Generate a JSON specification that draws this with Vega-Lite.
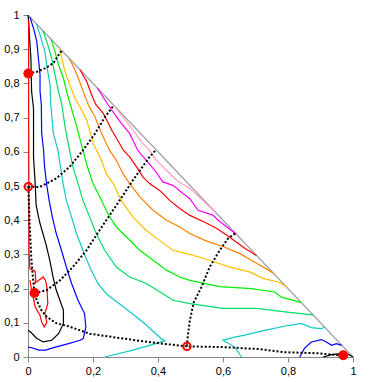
{
  "$schema": "https://vega.github.io/schema/vega-lite/v6.json",
  "width": 325,
  "height": 342,
  "autosize": "none",
  "padding": {"left": 28, "top": 15, "right": 17, "bottom": 25},
  "background": "white",
  "config": {
    "view": {"stroke": null},
    "axis": {
      "grid": false,
      "title": null,
      "domainColor": "#868686",
      "tickColor": "#868686",
      "tickSize": 5,
      "labelFont": "Liberation Sans",
      "labelFontSize": 11,
      "labelColor": "#000000",
      "labelFlush": false,
      "labelOverlap": false,
      "labelPadding": 3
    }
  },
  "datasets": {
    "contours": [
      {"s":"diag","i":0,"x":0,"y":1},{"s":"diag","i":1,"x":1,"y":0},

      {"s":"pink","i":0,"x":0.263,"y":0.737},{"s":"pink","i":1,"x":0.292,"y":0.702},{"s":"pink","i":2,"x":0.323,"y":0.663},{"s":"pink","i":3,"x":0.354,"y":0.624},{"s":"pink","i":4,"x":0.374,"y":0.604},{"s":"pink","i":5,"x":0.395,"y":0.575},{"s":"pink","i":6,"x":0.426,"y":0.546},{"s":"pink","i":7,"x":0.457,"y":0.517},{"s":"pink","i":8,"x":0.498,"y":0.493},{"s":"pink","i":9,"x":0.538,"y":0.458},{"s":"pink","i":10,"x":0.574,"y":0.426},

      {"s":"magenta","i":0,"x":0.213,"y":0.787},{"s":"magenta","i":1,"x":0.227,"y":0.766},{"s":"magenta","i":2,"x":0.251,"y":0.731},{"s":"magenta","i":3,"x":0.280,"y":0.692},{"s":"magenta","i":4,"x":0.313,"y":0.653},{"s":"magenta","i":5,"x":0.338,"y":0.604},{"s":"magenta","i":6,"x":0.364,"y":0.575},{"s":"magenta","i":7,"x":0.390,"y":0.546},{"s":"magenta","i":8,"x":0.415,"y":0.512},{"s":"magenta","i":9,"x":0.446,"y":0.502},{"s":"magenta","i":10,"x":0.477,"y":0.478},{"s":"magenta","i":11,"x":0.498,"y":0.463},{"s":"magenta","i":12,"x":0.523,"y":0.429},{"s":"magenta","i":13,"x":0.569,"y":0.415},{"s":"magenta","i":14,"x":0.585,"y":0.400},{"s":"magenta","i":15,"x":0.641,"y":0.359},

      {"s":"red","i":0,"x":0.160,"y":0.840},{"s":"red","i":1,"x":0.181,"y":0.805},{"s":"red","i":2,"x":0.196,"y":0.766},{"s":"red","i":3,"x":0.208,"y":0.739},{"s":"red","i":4,"x":0.232,"y":0.712},{"s":"red","i":5,"x":0.258,"y":0.663},{"s":"red","i":6,"x":0.294,"y":0.604},{"s":"red","i":7,"x":0.313,"y":0.585},{"s":"red","i":8,"x":0.334,"y":0.556},{"s":"red","i":9,"x":0.354,"y":0.526},{"s":"red","i":10,"x":0.374,"y":0.507},{"s":"red","i":11,"x":0.405,"y":0.487},{"s":"red","i":12,"x":0.436,"y":0.458},{"s":"red","i":13,"x":0.467,"y":0.434},{"s":"red","i":14,"x":0.498,"y":0.414},{"s":"red","i":15,"x":0.544,"y":0.394},{"s":"red","i":16,"x":0.581,"y":0.376},{"s":"red","i":17,"x":0.621,"y":0.350},{"s":"red","i":18,"x":0.667,"y":0.318},{"s":"red","i":19,"x":0.703,"y":0.297},

      {"s":"orange","i":0,"x":0.127,"y":0.873},{"s":"orange","i":1,"x":0.140,"y":0.849},{"s":"orange","i":2,"x":0.155,"y":0.815},{"s":"orange","i":3,"x":0.170,"y":0.776},{"s":"orange","i":4,"x":0.186,"y":0.737},{"s":"orange","i":5,"x":0.206,"y":0.702},{"s":"orange","i":6,"x":0.227,"y":0.653},{"s":"orange","i":7,"x":0.251,"y":0.604},{"s":"orange","i":8,"x":0.272,"y":0.575},{"s":"orange","i":9,"x":0.292,"y":0.536},{"s":"orange","i":10,"x":0.313,"y":0.507},{"s":"orange","i":11,"x":0.344,"y":0.468},{"s":"orange","i":12,"x":0.385,"y":0.429},{"s":"orange","i":13,"x":0.426,"y":0.400},{"s":"orange","i":14,"x":0.467,"y":0.380},{"s":"orange","i":15,"x":0.498,"y":0.361},{"s":"orange","i":16,"x":0.544,"y":0.341},{"s":"orange","i":17,"x":0.605,"y":0.321},{"s":"orange","i":18,"x":0.651,"y":0.303},{"s":"orange","i":19,"x":0.698,"y":0.277},{"s":"orange","i":20,"x":0.754,"y":0.246},

      {"s":"gold","i":0,"x":0.097,"y":0.903},{"s":"gold","i":1,"x":0.104,"y":0.873},{"s":"gold","i":2,"x":0.114,"y":0.834},{"s":"gold","i":3,"x":0.129,"y":0.795},{"s":"gold","i":4,"x":0.145,"y":0.756},{"s":"gold","i":5,"x":0.159,"y":0.733},{"s":"gold","i":6,"x":0.181,"y":0.692},{"s":"gold","i":7,"x":0.201,"y":0.624},{"s":"gold","i":8,"x":0.226,"y":0.575},{"s":"gold","i":9,"x":0.241,"y":0.536},{"s":"gold","i":10,"x":0.262,"y":0.507},{"s":"gold","i":11,"x":0.287,"y":0.458},{"s":"gold","i":12,"x":0.323,"y":0.409},{"s":"gold","i":13,"x":0.364,"y":0.370},{"s":"gold","i":14,"x":0.405,"y":0.341},{"s":"gold","i":15,"x":0.446,"y":0.312},{"s":"gold","i":16,"x":0.498,"y":0.300},{"s":"gold","i":17,"x":0.559,"y":0.283},{"s":"gold","i":18,"x":0.621,"y":0.263},{"s":"gold","i":19,"x":0.682,"y":0.249},{"s":"gold","i":20,"x":0.723,"y":0.230},{"s":"gold","i":21,"x":0.775,"y":0.218},{"s":"gold","i":22,"x":0.795,"y":0.205},

      {"s":"lime","i":0,"x":0.071,"y":0.929},{"s":"lime","i":1,"x":0.083,"y":0.893},{"s":"lime","i":2,"x":0.094,"y":0.854},{"s":"lime","i":3,"x":0.109,"y":0.815},{"s":"lime","i":4,"x":0.119,"y":0.776},{"s":"lime","i":5,"x":0.130,"y":0.739},{"s":"lime","i":6,"x":0.150,"y":0.673},{"s":"lime","i":7,"x":0.169,"y":0.604},{"s":"lime","i":8,"x":0.180,"y":0.565},{"s":"lime","i":9,"x":0.200,"y":0.507},{"s":"lime","i":10,"x":0.221,"y":0.468},{"s":"lime","i":11,"x":0.246,"y":0.419},{"s":"lime","i":12,"x":0.272,"y":0.380},{"s":"lime","i":13,"x":0.303,"y":0.351},{"s":"lime","i":14,"x":0.344,"y":0.312},{"s":"lime","i":15,"x":0.385,"y":0.283},{"s":"lime","i":16,"x":0.426,"y":0.254},{"s":"lime","i":17,"x":0.467,"y":0.234},{"s":"lime","i":18,"x":0.498,"y":0.224},{"s":"lime","i":19,"x":0.590,"y":0.206},{"s":"lime","i":20,"x":0.687,"y":0.200},{"s":"lime","i":21,"x":0.759,"y":0.190},{"s":"lime","i":22,"x":0.780,"y":0.175},{"s":"lime","i":23,"x":0.841,"y":0.159},

      {"s":"spring","i":0,"x":0.046,"y":0.954},{"s":"spring","i":1,"x":0.058,"y":0.922},{"s":"spring","i":2,"x":0.073,"y":0.873},{"s":"spring","i":3,"x":0.083,"y":0.825},{"s":"spring","i":4,"x":0.094,"y":0.776},{"s":"spring","i":5,"x":0.104,"y":0.739},{"s":"spring","i":6,"x":0.114,"y":0.673},{"s":"spring","i":7,"x":0.128,"y":0.604},{"s":"spring","i":8,"x":0.138,"y":0.556},{"s":"spring","i":9,"x":0.154,"y":0.507},{"s":"spring","i":10,"x":0.169,"y":0.458},{"s":"spring","i":11,"x":0.190,"y":0.409},{"s":"spring","i":12,"x":0.210,"y":0.361},{"s":"spring","i":13,"x":0.236,"y":0.312},{"s":"spring","i":14,"x":0.272,"y":0.263},{"s":"spring","i":15,"x":0.313,"y":0.234},{"s":"spring","i":16,"x":0.364,"y":0.215},{"s":"spring","i":17,"x":0.415,"y":0.185},{"s":"spring","i":18,"x":0.446,"y":0.166},{"s":"spring","i":19,"x":0.498,"y":0.156},{"s":"spring","i":20,"x":0.600,"y":0.142},{"s":"spring","i":21,"x":0.703,"y":0.142},{"s":"spring","i":22,"x":0.790,"y":0.132},{"s":"spring","i":23,"x":0.877,"y":0.123},

      {"s":"cyan","i":0,"x":0.026,"y":0.974},{"s":"cyan","i":1,"x":0.037,"y":0.942},{"s":"cyan","i":2,"x":0.052,"y":0.893},{"s":"cyan","i":3,"x":0.058,"y":0.850},{"s":"cyan","i":4,"x":0.068,"y":0.795},{"s":"cyan","i":5,"x":0.070,"y":0.739},{"s":"cyan","i":6,"x":0.078,"y":0.654},{"s":"cyan","i":7,"x":0.092,"y":0.604},{"s":"cyan","i":8,"x":0.100,"y":0.556},{"s":"cyan","i":9,"x":0.108,"y":0.507},{"s":"cyan","i":10,"x":0.118,"y":0.458},{"s":"cyan","i":11,"x":0.134,"y":0.409},{"s":"cyan","i":12,"x":0.149,"y":0.361},{"s":"cyan","i":13,"x":0.169,"y":0.312},{"s":"cyan","i":14,"x":0.190,"y":0.263},{"s":"cyan","i":15,"x":0.215,"y":0.215},{"s":"cyan","i":16,"x":0.241,"y":0.185},{"s":"cyan","i":17,"x":0.267,"y":0.166},{"s":"cyan","i":18,"x":0.323,"y":0.125},{"s":"cyan","i":19,"x":0.359,"y":0.098},{"s":"cyan","i":20,"x":0.405,"y":0.058},{"s":"cyan","i":21,"x":0.421,"y":0.047},{"s":"cyan","i":22,"x":0.395,"y":0.040},{"s":"cyan","i":23,"x":0.323,"y":0.020},{"s":"cyan","i":24,"x":0.236,"y":0.0},

      {"s":"cyan2","i":0,"x":0.913,"y":0.087},{"s":"cyan2","i":1,"x":0.903,"y":0.083},{"s":"cyan2","i":2,"x":0.872,"y":0.086},{"s":"cyan2","i":3,"x":0.841,"y":0.098},{"s":"cyan2","i":4,"x":0.800,"y":0.092},{"s":"cyan2","i":5,"x":0.728,"y":0.078},{"s":"cyan2","i":6,"x":0.667,"y":0.064},{"s":"cyan2","i":7,"x":0.636,"y":0.058},{"s":"cyan2","i":8,"x":0.600,"y":0.049},{"s":"cyan2","i":9,"x":0.636,"y":0.029},{"s":"cyan2","i":10,"x":0.657,"y":0.0},

      {"s":"blue","i":0,"x":0.006,"y":0.994},{"s":"blue","i":1,"x":0.017,"y":0.961},{"s":"blue","i":2,"x":0.027,"y":0.923},{"s":"blue","i":3,"x":0.032,"y":0.873},{"s":"blue","i":4,"x":0.037,"y":0.825},{"s":"blue","i":5,"x":0.037,"y":0.777},{"s":"blue","i":6,"x":0.041,"y":0.739},{"s":"blue","i":7,"x":0.042,"y":0.654},{"s":"blue","i":8,"x":0.048,"y":0.604},{"s":"blue","i":9,"x":0.051,"y":0.556},{"s":"blue","i":10,"x":0.057,"y":0.507},{"s":"blue","i":11,"x":0.065,"y":0.458},{"s":"blue","i":12,"x":0.075,"y":0.409},{"s":"blue","i":13,"x":0.087,"y":0.361},{"s":"blue","i":14,"x":0.103,"y":0.312},{"s":"blue","i":15,"x":0.118,"y":0.263},{"s":"blue","i":16,"x":0.134,"y":0.215},{"s":"blue","i":17,"x":0.154,"y":0.166},{"s":"blue","i":18,"x":0.174,"y":0.127},{"s":"blue","i":19,"x":0.178,"y":0.088},{"s":"blue","i":20,"x":0.170,"y":0.054},{"s":"blue","i":21,"x":0.160,"y":0.049},{"s":"blue","i":22,"x":0.125,"y":0.039},{"s":"blue","i":23,"x":0.084,"y":0.029},{"s":"blue","i":24,"x":0.054,"y":0.020},{"s":"blue","i":25,"x":0.033,"y":0.020},{"s":"blue","i":26,"x":0.012,"y":0.027},{"s":"blue","i":27,"x":0.001,"y":0.029},

      {"s":"blue2","i":0,"x":0.836,"y":0.0},{"s":"blue2","i":1,"x":0.851,"y":0.026},{"s":"blue2","i":2,"x":0.872,"y":0.044},{"s":"blue2","i":3,"x":0.903,"y":0.051},{"s":"blue2","i":4,"x":0.918,"y":0.044},{"s":"blue2","i":5,"x":0.934,"y":0.034},{"s":"blue2","i":6,"x":0.949,"y":0.039},{"s":"blue2","i":7,"x":0.965,"y":0.034},

      {"s":"black","i":0,"x":0.0,"y":1.0},{"s":"black","i":1,"x":0.001,"y":0.990},{"s":"black","i":2,"x":0.009,"y":0.873},{"s":"black","i":3,"x":0.011,"y":0.777},{"s":"black","i":4,"x":0.017,"y":0.727},{"s":"black","i":5,"x":0.017,"y":0.585},{"s":"black","i":6,"x":0.022,"y":0.508},{"s":"black","i":7,"x":0.025,"y":0.444},{"s":"black","i":8,"x":0.036,"y":0.394},{"s":"black","i":9,"x":0.056,"y":0.327},{"s":"black","i":10,"x":0.067,"y":0.283},{"s":"black","i":11,"x":0.077,"y":0.234},{"s":"black","i":12,"x":0.087,"y":0.195},{"s":"black","i":13,"x":0.098,"y":0.166},{"s":"black","i":14,"x":0.109,"y":0.137},{"s":"black","i":15,"x":0.109,"y":0.098},{"s":"black","i":16,"x":0.094,"y":0.068},{"s":"black","i":17,"x":0.073,"y":0.049},{"s":"black","i":18,"x":0.047,"y":0.044},{"s":"black","i":19,"x":0.027,"y":0.054},{"s":"black","i":20,"x":0.011,"y":0.070},{"s":"black","i":21,"x":0.001,"y":0.078},

      {"s":"black2","i":0,"x":0.908,"y":0.0},{"s":"black2","i":1,"x":0.934,"y":0.007},{"s":"black2","i":2,"x":0.960,"y":0.010},{"s":"black2","i":3,"x":0.985,"y":0.008},{"s":"black2","i":4,"x":1.0,"y":0.0},

      {"s":"redloop","i":0,"x":0.002,"y":0.985},{"s":"redloop","i":1,"x":0.002,"y":0.700},{"s":"redloop","i":2,"x":0.003,"y":0.400},{"s":"redloop","i":3,"x":0.003,"y":0.310},{"s":"redloop","i":4,"x":0.006,"y":0.258},{"s":"redloop","i":5,"x":0.022,"y":0.251},{"s":"redloop","i":6,"x":0.024,"y":0.224},{"s":"redloop","i":7,"x":0.020,"y":0.215},{"s":"redloop","i":8,"x":0.047,"y":0.234},{"s":"redloop","i":9,"x":0.054,"y":0.224},{"s":"redloop","i":10,"x":0.058,"y":0.205},{"s":"redloop","i":11,"x":0.061,"y":0.156},{"s":"redloop","i":12,"x":0.052,"y":0.127},{"s":"redloop","i":13,"x":0.058,"y":0.102},{"s":"redloop","i":14,"x":0.050,"y":0.088},{"s":"redloop","i":15,"x":0.042,"y":0.102},{"s":"redloop","i":16,"x":0.037,"y":0.122},{"s":"redloop","i":17,"x":0.022,"y":0.146},{"s":"redloop","i":18,"x":0.017,"y":0.171},{"s":"redloop","i":19,"x":0.011,"y":0.195},{"s":"redloop","i":20,"x":0.006,"y":0.225}
    ],
    "dotted": [
      {"s":"d1","i":0,"x":0.001,"y":0.829},{"s":"d1","i":1,"x":0.027,"y":0.834},{"s":"d1","i":2,"x":0.052,"y":0.844},{"s":"d1","i":3,"x":0.078,"y":0.859},{"s":"d1","i":4,"x":0.094,"y":0.883},{"s":"d1","i":5,"x":0.104,"y":0.896},

      {"s":"d2","i":0,"x":0.001,"y":0.498},{"s":"d2","i":1,"x":0.036,"y":0.497},{"s":"d2","i":2,"x":0.087,"y":0.522},{"s":"d2","i":3,"x":0.128,"y":0.556},{"s":"d2","i":4,"x":0.169,"y":0.604},{"s":"d2","i":5,"x":0.206,"y":0.653},{"s":"d2","i":6,"x":0.237,"y":0.702},{"s":"d2","i":7,"x":0.264,"y":0.736},

      {"s":"d3","i":0,"x":0.020,"y":0.187},{"s":"d3","i":1,"x":0.057,"y":0.195},{"s":"d3","i":2,"x":0.098,"y":0.224},{"s":"d3","i":3,"x":0.138,"y":0.263},{"s":"d3","i":4,"x":0.180,"y":0.312},{"s":"d3","i":5,"x":0.210,"y":0.356},{"s":"d3","i":6,"x":0.241,"y":0.400},{"s":"d3","i":7,"x":0.282,"y":0.458},{"s":"d3","i":8,"x":0.323,"y":0.517},{"s":"d3","i":9,"x":0.374,"y":0.585},{"s":"d3","i":10,"x":0.394,"y":0.606},

      {"s":"d4","i":0,"x":0.489,"y":0.031},{"s":"d4","i":1,"x":0.491,"y":0.055},{"s":"d4","i":2,"x":0.498,"y":0.107},{"s":"d4","i":3,"x":0.510,"y":0.160},{"s":"d4","i":4,"x":0.534,"y":0.205},{"s":"d4","i":5,"x":0.559,"y":0.263},{"s":"d4","i":6,"x":0.590,"y":0.312},{"s":"d4","i":7,"x":0.615,"y":0.346},{"s":"d4","i":8,"x":0.638,"y":0.362},

      {"s":"d5","i":0,"x":0.001,"y":0.498},{"s":"d5","i":1,"x":0.005,"y":0.391},{"s":"d5","i":2,"x":0.010,"y":0.292},{"s":"d5","i":3,"x":0.015,"y":0.233},{"s":"d5","i":4,"x":0.020,"y":0.187},{"s":"d5","i":5,"x":0.027,"y":0.166},{"s":"d5","i":6,"x":0.041,"y":0.137},{"s":"d5","i":7,"x":0.058,"y":0.117},{"s":"d5","i":8,"x":0.087,"y":0.099},{"s":"d5","i":9,"x":0.124,"y":0.090},{"s":"d5","i":10,"x":0.190,"y":0.068},{"s":"d5","i":11,"x":0.292,"y":0.054},{"s":"d5","i":12,"x":0.395,"y":0.041},{"s":"d5","i":13,"x":0.489,"y":0.031},{"s":"d5","i":14,"x":0.600,"y":0.029},{"s":"d5","i":15,"x":0.713,"y":0.023},{"s":"d5","i":16,"x":0.790,"y":0.014},{"s":"d5","i":17,"x":0.891,"y":0.011},{"s":"d5","i":18,"x":0.968,"y":0.004}
    ],
    "points": [
      {"t":"filled","x":0.001,"y":0.829},
      {"t":"filled","x":0.020,"y":0.187},
      {"t":"filled","x":0.970,"y":0.005},
      {"t":"open","x":0.001,"y":0.498},
      {"t":"open","x":0.489,"y":0.031}
    ]
  },
  "encoding": {
    "x": {
      "field": "x", "type": "quantitative",
      "scale": {"domain": [0, 1], "nice": false, "zero": false},
      "axis": {"values": [0, 0.2, 0.4, 0.6, 0.8, 1], "labelExpr": "replace(format(datum.value, '~g'), '.', ',')"}
    },
    "y": {
      "field": "y", "type": "quantitative",
      "scale": {"domain": [0, 1], "nice": false, "zero": false},
      "axis": {"values": [0, 0.1, 0.2, 0.3, 0.4, 0.5, 0.6, 0.7, 0.8, 0.9, 1], "labelExpr": "replace(format(datum.value, '~g'), '.', ',')", "labelPadding": 4}
    }
  },
  "layer": [
    {
      "data": {"name": "contours"},
      "mark": {"type": "line", "strokeWidth": 1.2, "interpolate": "linear"},
      "encoding": {
        "color": {
          "field": "s", "type": "nominal", "legend": null,
          "scale": {
            "domain": ["diag", "pink", "magenta", "red", "redloop", "orange", "gold", "lime", "spring", "cyan", "cyan2", "blue", "blue2", "black", "black2"],
            "range": ["#A0A0A0", "#FF99CC", "#FF00FF", "#FF0000", "#FF0000", "#FF8000", "#FFC000", "#00F000", "#00DD66", "#11C8C8", "#11C8C8", "#0000FF", "#0000FF", "#000000", "#000000"]
          }
        },
        "order": {"field": "i", "type": "quantitative"}
      }
    },
    {
      "data": {"name": "dotted"},
      "mark": {"type": "line", "strokeWidth": 2, "strokeDash": [2, 2], "color": "#000000"},
      "encoding": {
        "detail": {"field": "s", "type": "nominal"},
        "order": {"field": "i", "type": "quantitative"}
      }
    },
    {
      "data": {"name": "points"},
      "transform": [{"filter": "datum.t === 'filled'"}],
      "mark": {"type": "point", "filled": true, "shape": "circle", "size": 100, "color": "#FF0000", "opacity": 1}
    },
    {
      "data": {"name": "points"},
      "transform": [{"filter": "datum.t === 'open'"}],
      "mark": {"type": "point", "filled": false, "shape": "circle", "size": 55, "stroke": "#FF0000", "strokeWidth": 2, "opacity": 1}
    }
  ]
}
